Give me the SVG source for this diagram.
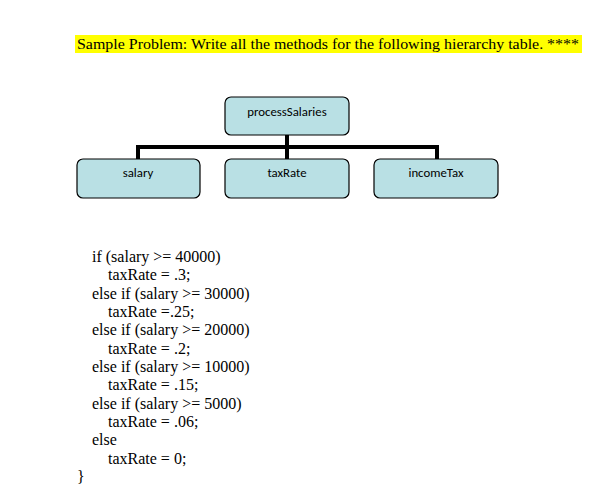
<svg xmlns="http://www.w3.org/2000/svg" width="599" height="497" viewBox="0 0 599 497">
<style>
.box{fill:#b9e0e4;stroke:#000;stroke-width:1.2}
.lbl{font-family:"Carlito","Open Sans","Liberation Sans",sans-serif;font-size:12.8px;fill:#000;text-anchor:middle}
.code{font-family:"Liberation Serif",serif;font-size:16px;fill:#000}
.conn{fill:none;stroke:#000;stroke-width:4}
</style>
<rect x="0" y="0" width="599" height="497" fill="#fff"/>
<rect x="75" y="35" width="507" height="18" fill="#ffff00"/>
<text x="77" y="49" style="font-family:'Liberation Serif',serif;font-size:14.7px" textLength="502" lengthAdjust="spacingAndGlyphs">Sample Problem: Write all the methods for the following hierarchy table. ****</text>
<g id="connectors">
<path class="conn" d="M287 135V147M138 147H437M138 145V159M287 147V159M437 145V159"/>
</g>
<g id="processSalaries"><rect class="box" x="225" y="97" width="124" height="38" rx="6"/><text class="lbl" x="287" y="116">processSalaries</text></g>
<g id="salary"><rect class="box" x="77" y="159" width="123" height="39" rx="6"/><text class="lbl" x="138" y="177">salary</text></g>
<g id="taxRate"><rect class="box" x="225" y="159" width="124" height="39" rx="6"/><text class="lbl" x="287" y="177">taxRate</text></g>
<g id="incomeTax"><rect class="box" x="374" y="159" width="124" height="39" rx="6"/><text class="lbl" x="436" y="177">incomeTax</text></g>
<g class="code">
<text x="92" y="262">if (salary &gt;= 40000)</text>
<text x="108" y="280">taxRate = .3;</text>
<text x="92" y="299">else if (salary &gt;= 30000)</text>
<text x="108" y="317">taxRate =.25;</text>
<text x="92" y="335">else if (salary &gt;= 20000)</text>
<text x="108" y="354">taxRate = .2;</text>
<text x="92" y="372">else if (salary &gt;= 10000)</text>
<text x="108" y="390">taxRate = .15;</text>
<text x="92" y="409">else if (salary &gt;= 5000)</text>
<text x="108" y="427">taxRate = .06;</text>
<text x="92" y="445">else</text>
<text x="108" y="464">taxRate = 0;</text>
<text x="77" y="482">}</text>
</g>
</svg>
